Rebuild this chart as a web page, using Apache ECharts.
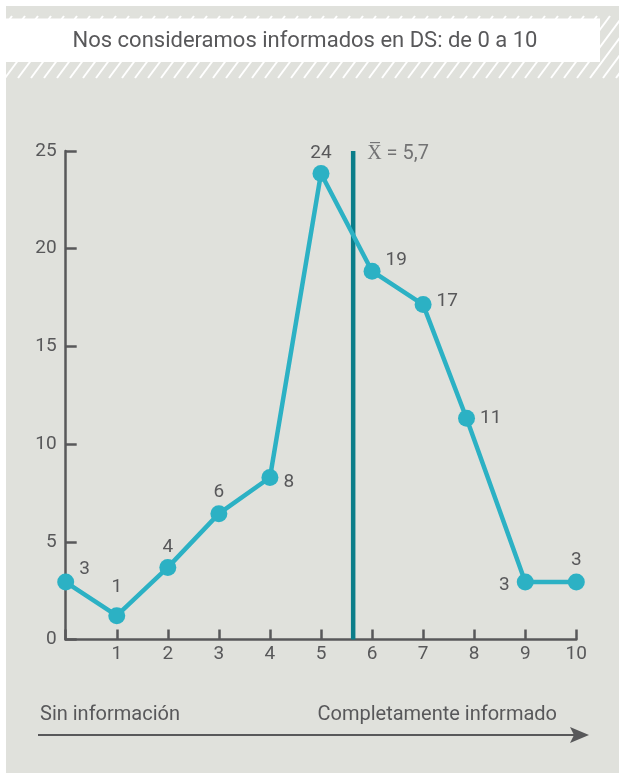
<!DOCTYPE html>
<html>
<head>
<meta charset="utf-8">
<script src="https://cdn.jsdelivr.net/npm/echarts@6/dist/echarts.min.js"></script>
<style>
  html, body { margin: 0; padding: 0; background: #fff; }
  #main { width: 619px; height: 773px; }
</style>
</head>
<body>
<div id="main"></div>
<script>
// datos
var titleText = 'Nos consideramos informados en DS: de 0 a 10';
var xValues = [0, 1, 2, 3, 4, 5, 6, 7, 7.85, 9, 10];
var yValues = [2.94, 1.22, 3.69, 6.44, 8.29, 23.85, 18.85, 17.14, 11.32, 2.94, 2.94];
var pointLabels = ['3', '1', '4', '6', '8', '24', '19', '17', '11', '3', '3'];
var meanX = 5.63;
var meanLabel = 'X\u0305 = 5,7';
var leftText = 'Sin información';
var rightText = 'Completamente informado';

(function(){
    var myChart = echarts.init(document.getElementById('main'));
    var textColor = '#58585a';
    var axisColor = '#58585a';
    var font = 'Roboto';

    // posición de cada etiqueta
    var labelPlace = [
        ['right', [0, -13]], ['top', [0, -5]], ['top', [0, 3]], ['top', [0, 2]],
        ['right', [0, 5]], ['top', [0, 3]], ['right', [0, -11]], ['right', [0, -3]],
        ['right', [0, 0]], ['left', [-2, 3]], ['top', [0, 1]]
    ];
    var lineData = xValues.map(function(x, i){
        return {
            value: [x, yValues[i]],
            label: {
                show: true,
                formatter: pointLabels[i],
                position: labelPlace[i][0],
                offset: labelPlace[i][1]
            }
        };
    });

    // rayas del encabezado
    var graphics = [];
    for (var x = -60; x < 640; x += 13) {
        graphics.push({
            type: 'line',
            shape: { x1: x, y1: 78, x2: x + 46, y2: 16 },
            style: { stroke: '#ffffff', lineWidth: 2 },
            silent: true
        });
    }
    graphics.push({
        type: 'rect',
        shape: { x: 6, y: 18.5, width: 594, height: 43.5 },
        style: { fill: '#ffffff' }
    });
    graphics.push({
        type: 'text',
        x: 305, y: 41,
        style: {
            text: titleText, fill: textColor, font: '22px ' + font,
            textAlign: 'center', textVerticalAlign: 'middle'
        }
    });
    // márgenes blancos
    graphics.push({ type: 'rect', shape: { x: 0, y: 0, width: 619, height: 6 }, style: { fill: '#ffffff' } });
    graphics.push({ type: 'rect', shape: { x: 0, y: 0, width: 6, height: 773 }, style: { fill: '#ffffff' } });
    // flecha inferior
    graphics.push({
        type: 'line',
        shape: { x1: 38, y1: 735, x2: 575, y2: 735 },
        style: { stroke: textColor, lineWidth: 2 }
    });
    graphics.push({
        type: 'polygon',
        shape: { points: [[570, 727], [589, 735], [570, 743], [574, 735]] },
        style: { fill: textColor }
    });
    graphics.push({
        type: 'text', x: 40, y: 715,
        style: { text: leftText, fill: textColor, font: '20px ' + font, textAlign: 'left', textVerticalAlign: 'middle' }
    });
    graphics.push({
        type: 'text', x: 557, y: 715,
        style: { text: rightText, fill: textColor, font: '20px ' + font, textAlign: 'right', textVerticalAlign: 'middle' }
    });

    var option = {
        backgroundColor: '#e0e1dc',
        animation: false,
        textStyle: { fontFamily: font },
        grid: {
            left: 65.7, right: 42.7, top: 151, bottom: 133.5,
            outerBoundsMode: 'none'
        },
        xAxis: {
            type: 'value',
            min: 0, max: 10, interval: 1,
            axisLine: { lineStyle: { color: axisColor, width: 2.5 } },
            axisTick: { show: true, inside: true, length: 10, lineStyle: { color: axisColor, width: 2.5 } },
            axisLabel: {
                color: textColor, fontSize: 19, margin: 5,
                formatter: function(v){ return v === 0 ? '' : v; }
            },
            splitLine: { show: false }
        },
        yAxis: {
            type: 'value',
            min: 0, max: 25, interval: 5,
            axisLine: { show: true, lineStyle: { color: axisColor, width: 2.5 } },
            axisTick: { show: true, inside: true, length: 11, lineStyle: { color: axisColor, width: 2.5 } },
            axisLabel: { color: textColor, fontSize: 19, margin: 9 },
            splitLine: { show: false }
        },
        series: [
            {
                // línea de la media
                type: 'line',
                data: [[meanX, 0], [meanX, 25]],
                symbol: 'none',
                lineStyle: { color: '#0b7d89', width: 4.5 },
                z: 1
            },
            {
                type: 'scatter',
                data: [[meanX, 25]],
                symbolSize: 0,
                label: {
                    show: true, formatter: meanLabel, position: 'right',
                    distance: 14, offset: [0, 3],
                    color: textColor, fontSize: 20
                }
            },
            {
                type: 'line',
                data: lineData,
                symbol: 'circle',
                symbolSize: 17,
                lineStyle: { color: '#2cb1c4', width: 4.5 },
                itemStyle: { color: '#2cb1c4' },
                label: { color: textColor, fontSize: 19, distance: 5 },
                z: 3
            }
        ],
        graphic: graphics
    };
    myChart.setOption(option);
})();
</script>
</body>
</html>
